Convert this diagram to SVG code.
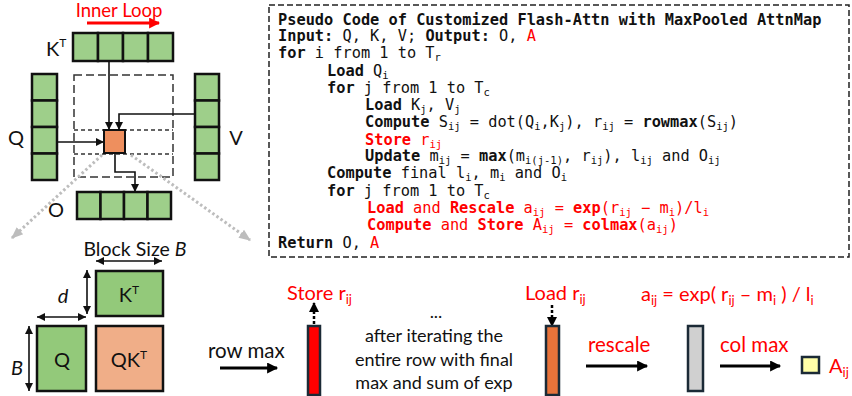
<svg xmlns="http://www.w3.org/2000/svg" width="852" height="396" viewBox="0 0 852 396">
<defs>
<style>
.cell{fill:#9ecf8a;stroke:#111;stroke-width:2.5}
.blk{stroke:#111;stroke-width:2.5}
.lbl{font-family:Lato,"Liberation Sans",sans-serif;font-size:18px;fill:#111}
.big{font-size:20px}
.bg2{font-size:20.5px}
.red{fill:#ff0000}
.code{font-family:"DejaVu Sans Mono","Liberation Mono",monospace;font-size:15.3px;fill:#111}
.b{font-weight:bold}
.s{font-size:10.5px}
.cr{fill:#ff0000}
.thin{stroke:#111;stroke-width:1.6;fill:none}
.thick{stroke:#000;stroke-width:3;fill:none}
.grey{stroke:#bdbdbd;stroke-width:3;stroke-dasharray:2.5 2.5;fill:none}
.dot{stroke:#000;stroke-width:2.5;stroke-dasharray:3 2;fill:none}
.bar{stroke:#1b2a36;stroke-width:2.5}
</style>
<marker id="ah" viewBox="0 0 10 10" refX="10" refY="5" markerWidth="8" markerHeight="8" markerUnits="userSpaceOnUse" orient="auto"><path d="M0,0L10,5L0,10z" fill="#111"/></marker>
<marker id="ahs" viewBox="0 0 10 10" refX="0" refY="5" markerWidth="8" markerHeight="8" markerUnits="userSpaceOnUse" orient="auto"><path d="M10,0L0,5L10,10z" fill="#111"/></marker>
<marker id="ahb" viewBox="0 0 10 10" refX="9" refY="5" markerWidth="13" markerHeight="11" markerUnits="userSpaceOnUse" orient="auto"><path d="M0,0L10,5L0,10z" fill="#000"/></marker>
<marker id="ahr" viewBox="0 0 10 10" refX="9" refY="5" markerWidth="11" markerHeight="11" markerUnits="userSpaceOnUse" orient="auto"><path d="M0,0L10,5L0,10z" fill="#ff0000"/></marker>
<marker id="ahg" viewBox="0 0 10 10" refX="9" refY="5" markerWidth="12" markerHeight="12" markerUnits="userSpaceOnUse" orient="auto"><path d="M0,1L10,5L0,9z" fill="#bdbdbd"/></marker>
<marker id="ahd" viewBox="0 0 10 10" refX="9" refY="5" markerWidth="10" markerHeight="10" markerUnits="userSpaceOnUse" orient="auto"><path d="M0,0L10,5L0,10z" fill="#000"/></marker>
</defs>
<rect width="852" height="396" fill="#fff"/>

<!-- Top-left tiled schematic -->
<g id="inner-loop">
<text class="lbl red" x="119" y="17" text-anchor="middle" style="font-size:18.5px">Inner Loop</text>
<line x1="87" y1="23" x2="159" y2="23" stroke="#ff0000" stroke-width="3" marker-end="url(#ahr)"/>
</g>
<g id="tile-region">
<rect x="74" y="75" width="99" height="102" fill="none" stroke="#333" stroke-width="1.5" stroke-dasharray="8 4"/>
<line x1="74" y1="130" x2="173" y2="130" stroke="#333" stroke-width="1.5" stroke-dasharray="4 3"/>
<line x1="74" y1="154" x2="173" y2="154" stroke="#333" stroke-width="1.5" stroke-dasharray="4 3"/>
</g>
<g id="KT-row">
<rect class="cell" x="73" y="33" width="25" height="28"/>
<rect class="cell" x="98" y="33" width="25" height="28"/>
<rect class="cell" x="123" y="33" width="25" height="28"/>
<rect class="cell" x="148" y="33" width="25" height="28"/>
<text class="lbl big" x="46" y="56">K<tspan font-size="12" dy="-9">T</tspan></text>
</g>
<g id="Q-col">
<rect class="cell" x="32" y="74" width="25" height="26.5"/>
<rect class="cell" x="32" y="100.5" width="25" height="26.5"/>
<rect class="cell" x="32" y="127" width="25" height="26.5"/>
<rect class="cell" x="32" y="153.5" width="25" height="26.5"/>
<text class="lbl big" x="16" y="145" text-anchor="middle">Q</text>
</g>
<g id="V-col">
<rect class="cell" x="195" y="74" width="24" height="26.5"/>
<rect class="cell" x="195" y="100.5" width="24" height="26.5"/>
<rect class="cell" x="195" y="127" width="24" height="26.5"/>
<rect class="cell" x="195" y="153.5" width="24" height="26.5"/>
<text class="lbl big" x="236" y="145" text-anchor="middle">V</text>
</g>
<g id="O-row">
<rect class="cell" x="77" y="192" width="23.5" height="27"/>
<rect class="cell" x="100.5" y="192" width="23.5" height="27"/>
<rect class="cell" x="124" y="192" width="23.5" height="27"/>
<rect class="cell" x="147.5" y="192" width="23.5" height="27"/>
<text class="lbl big" x="56" y="217" text-anchor="middle">O</text>
</g>
<g id="tile">
<rect x="104" y="130" width="21" height="23" fill="#ee8f5e" stroke="#111" stroke-width="2"/>
</g>

<g id="connectors">
<line class="thin" x1="109" y1="61" x2="109" y2="130" marker-end="url(#ah)"/>
<polyline class="thin" points="195,114 119,114 119,130" marker-end="url(#ah)"/>
<line class="thin" x1="57" y1="142" x2="104" y2="142" marker-end="url(#ah)"/>
<polyline class="thin" points="115,153 115,172 135,172 135,192" marker-end="url(#ah)"/>
<line class="grey" x1="102" y1="155" x2="12" y2="238" marker-end="url(#ahg)"/>
<line class="grey" x1="131" y1="155" x2="250" y2="240" marker-end="url(#ahg)"/>
<!-- block-size dimension arrows -->
<line class="thin" x1="96" y1="261" x2="162" y2="261" marker-start="url(#ahs)" marker-end="url(#ah)"/>
<line class="thin" x1="87" y1="270" x2="87" y2="314" marker-start="url(#ahs)" marker-end="url(#ah)"/>
<line class="thin" x1="37" y1="317" x2="86" y2="317" marker-start="url(#ahs)" marker-end="url(#ah)"/>
<line class="thin" x1="29" y1="326" x2="29" y2="391" marker-start="url(#ahs)" marker-end="url(#ah)"/>
<!-- flow arrows -->
<line class="thick" x1="220" y1="368" x2="277" y2="368" marker-end="url(#ahb)"/>
<line class="thick" x1="586" y1="366" x2="647" y2="366" marker-end="url(#ahb)"/>
<line class="thick" x1="720" y1="366" x2="780" y2="366" marker-end="url(#ahb)"/>
<line class="dot" x1="314" y1="324" x2="314" y2="303" marker-end="url(#ahd)"/>
<line class="dot" x1="552" y1="305" x2="552" y2="326" marker-end="url(#ahd)"/>
</g>

<!-- Pseudo code -->
<g id="pseudo-code">
<rect x="269" y="5" width="580" height="252" fill="none" stroke="#222" stroke-width="1.5" stroke-dasharray="6 3"/>
<text class="code b" x="278" y="25">Pseudo Code of Customized Flash-Attn with MaxPooled AttnMap</text>
<text class="code" x="278" y="41"><tspan class="b">Input:</tspan> Q, K, V; <tspan class="b">Output:</tspan> O, <tspan class="cr">A</tspan></text>
<text class="code" x="278" y="58"><tspan class="b">for</tspan> i from 1 to T<tspan class="s" dy="2.5">r</tspan></text>
<text class="code" x="327" y="76"><tspan class="b">Load</tspan> Q<tspan class="s" dy="2.5">i</tspan></text>
<text class="code" x="327" y="93"><tspan class="b">for</tspan> j from 1 to T<tspan class="s" dy="2.5">c</tspan></text>
<text class="code" x="365" y="110"><tspan class="b">Load</tspan> K<tspan class="s" dy="2.5">j</tspan><tspan dy="-2.5">, V</tspan><tspan class="s" dy="2.5">j</tspan></text>
<text class="code" x="365" y="127"><tspan class="b">Compute</tspan> S<tspan class="s" dy="2.5">ij</tspan><tspan dy="-2.5"> = dot(Q</tspan><tspan class="s" dy="2.5">i</tspan><tspan dy="-2.5">,K</tspan><tspan class="s" dy="2.5">j</tspan><tspan dy="-2.5">), r</tspan><tspan class="s" dy="2.5">ij</tspan><tspan dy="-2.5"> = </tspan><tspan class="b">rowmax</tspan>(S<tspan class="s" dy="2.5">ij</tspan><tspan dy="-2.5">)</tspan></text>
<text class="code cr" x="365" y="145"><tspan class="b">Store</tspan> r<tspan class="s" dy="2.5">ij</tspan></text>
<text class="code" x="365" y="161"><tspan class="b">Update</tspan> m<tspan class="s" dy="2.5">ij</tspan><tspan dy="-2.5"> = </tspan><tspan class="b">max</tspan>(m<tspan class="s" dy="2.5">i(j-1)</tspan><tspan dy="-2.5">, r</tspan><tspan class="s" dy="2.5">ij</tspan><tspan dy="-2.5">), l</tspan><tspan class="s" dy="2.5">ij</tspan><tspan dy="-2.5"> and O</tspan><tspan class="s" dy="2.5">ij</tspan></text>
<text class="code" x="327" y="178"><tspan class="b">Compute</tspan> final l<tspan class="s" dy="2.5">i</tspan><tspan dy="-2.5">, m</tspan><tspan class="s" dy="2.5">i</tspan><tspan dy="-2.5"> and O</tspan><tspan class="s" dy="2.5">i</tspan></text>
<text class="code" x="327" y="196"><tspan class="b">for</tspan> j from 1 to T<tspan class="s" dy="2.5">c</tspan></text>
<text class="code cr" x="367" y="213"><tspan class="b">Load</tspan> and <tspan class="b">Rescale</tspan> a<tspan class="s" dy="2.5">ij</tspan><tspan dy="-2.5"> = </tspan><tspan class="b">exp</tspan>(r<tspan class="s" dy="2.5">ij</tspan><tspan dy="-2.5"> − m</tspan><tspan class="s" dy="2.5">i</tspan><tspan dy="-2.5">)/l</tspan><tspan class="s" dy="2.5">i</tspan></text>
<text class="code cr" x="367" y="230"><tspan class="b">Compute</tspan> and <tspan class="b">Store</tspan> A<tspan class="s" dy="2.5">ij</tspan><tspan dy="-2.5"> = </tspan><tspan class="b">colmax</tspan>(a<tspan class="s" dy="2.5">ij</tspan><tspan dy="-2.5">)</tspan></text>
<text class="code" x="278" y="248"><tspan class="b">Return</tspan> O, <tspan class="cr">A</tspan></text>
</g>

<!-- Block size illustration -->
<g id="block-size">
<text class="lbl" x="135" y="256" text-anchor="middle" style="font-size:19.5px">Block Size <tspan font-style="italic">B</tspan></text>
<text class="lbl big" x="63" y="303" text-anchor="middle" font-style="italic">d</text>
<text class="lbl big" x="17" y="375" text-anchor="middle" font-style="italic">B</text>
</g>
<g id="KT-block">
<rect class="blk" x="96" y="271" width="67" height="45" fill="#93c97a"/>
<text class="lbl big" x="129" y="302" text-anchor="middle">K<tspan font-size="12" dy="-8">T</tspan></text>
</g>
<g id="Q-block">
<rect class="blk" x="37" y="326" width="49" height="65" fill="#93c97a"/>
<text class="lbl big" x="62" y="367" text-anchor="middle">Q</text>
</g>
<g id="QKT-block">
<rect class="blk" x="96" y="326" width="67" height="65" fill="#f0ae88"/>
<text class="lbl big" x="129" y="367" text-anchor="middle">QK<tspan font-size="12" dy="-8">T</tspan></text>
</g>

<!-- Flow -->
<g id="row-max"><text class="lbl bg2" x="208" y="358">row max</text></g>
<g id="store-bar">
<rect class="bar" x="308" y="326" width="12" height="69" fill="#ff0000"/>
<text class="lbl big red" x="287" y="300">Store r<tspan font-size="13" dy="4">ij</tspan></text>
</g>
<g id="iterate-note">
<text class="lbl" x="436" y="318" text-anchor="middle">...</text>
<text class="lbl" x="434" y="342" text-anchor="middle">after iterating the</text>
<text class="lbl" x="434" y="366" text-anchor="middle">entire row with final</text>
<text class="lbl" x="434" y="389" text-anchor="middle">max and sum of exp</text>
</g>
<g id="load-bar">
<rect class="bar" x="546" y="326" width="13" height="69" fill="#e8733a"/>
<text class="lbl big red" x="525" y="300">Load r<tspan font-size="13" dy="4">ij</tspan></text>
</g>
<g id="formula">
<text class="lbl big red" x="641" y="301">a<tspan font-size="13" dy="4">ij</tspan><tspan dy="-4"> = exp( r</tspan><tspan font-size="13" dy="4">ij</tspan><tspan dy="-4"> – m</tspan><tspan font-size="13" dy="4">i</tspan><tspan dy="-4"> ) / l</tspan><tspan font-size="13" dy="4">i</tspan></text>
</g>
<g id="rescale"><text class="lbl bg2 red" x="588" y="352">rescale</text></g>
<g id="grey-bar"><rect class="bar" x="688" y="326" width="15" height="65" fill="#d0d0d0"/></g>
<g id="col-max"><text class="lbl bg2 red" x="720" y="352">col max</text></g>
<g id="A-out">
<rect class="bar" x="802" y="357" width="17" height="16" fill="#ffffa8"/>
<text class="lbl big red" x="829" y="373">A<tspan font-size="13" dy="4">ij</tspan></text>
</g>
</svg>
